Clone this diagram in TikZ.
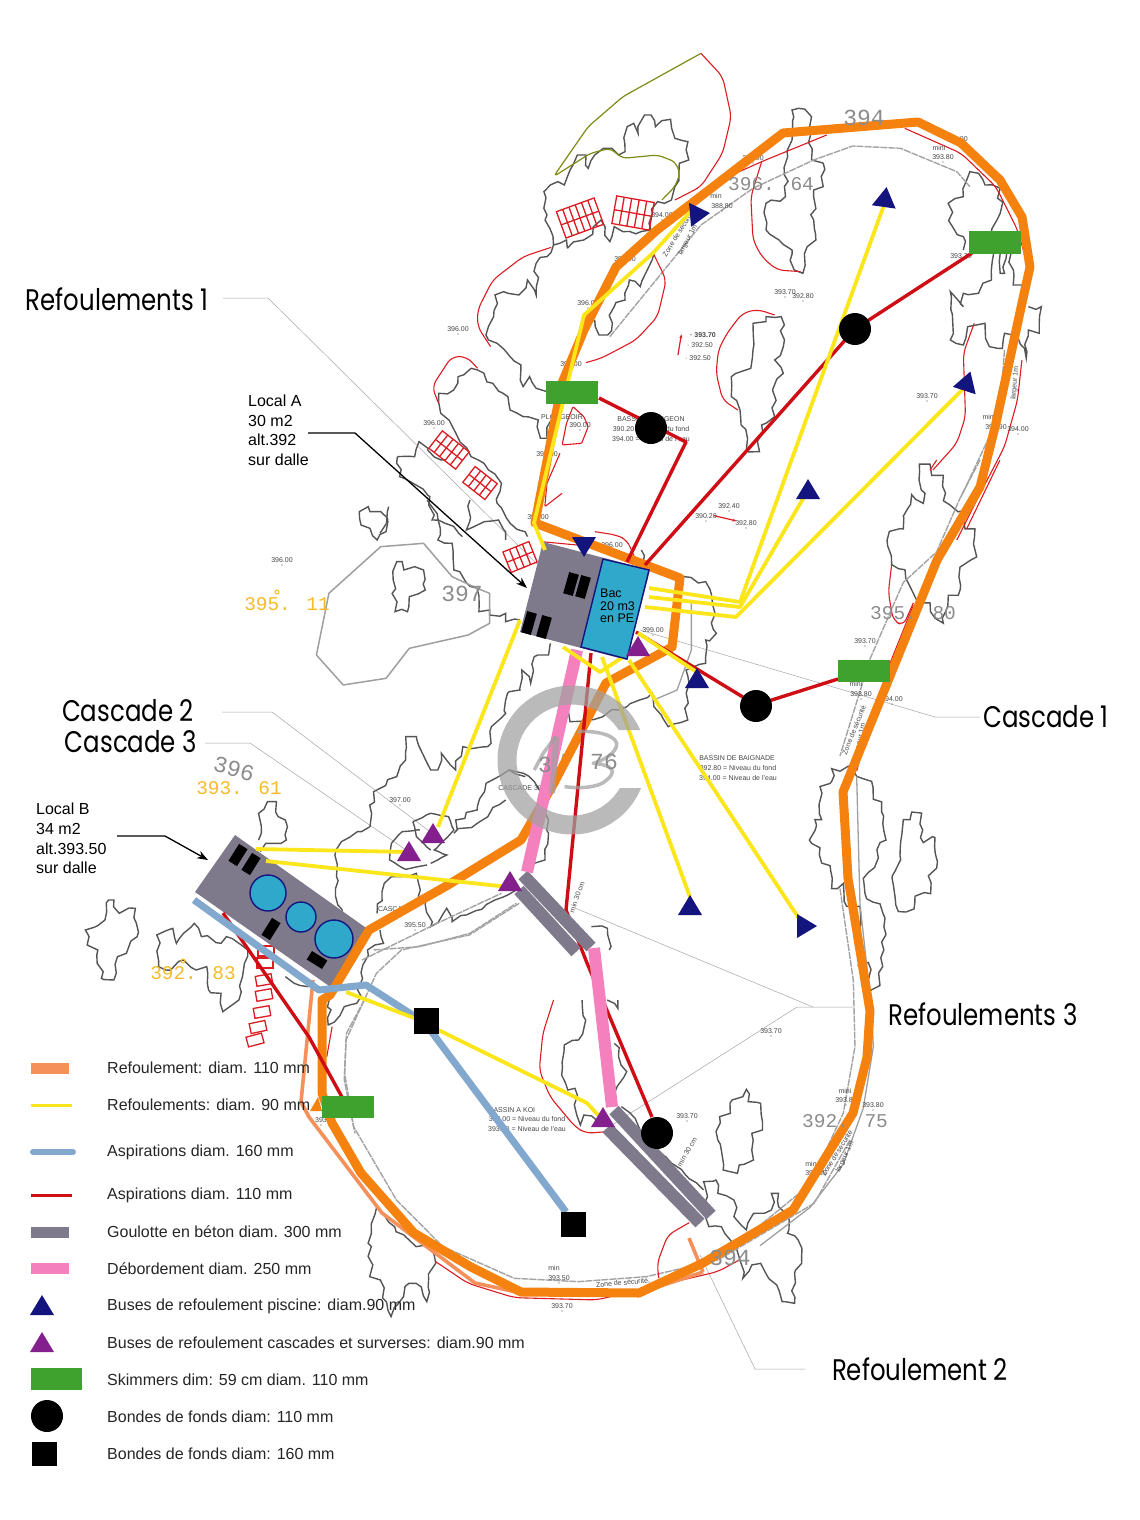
\documentclass[tikz,border=0pt]{standalone}
\usepackage{fontspec}
\usetikzlibrary{arrows.meta,decorations.pathmorphing}
\setmainfont{Liberation Sans}
\newfontfamily\calloutfont[FakeStretch=0.82]{Poppins}
\newfontfamily\monofont{Liberation Mono}
\definecolor{cOrange}{HTML}{F5820F}
\definecolor{cCoral}{HTML}{F5905A}
\definecolor{cYellow}{HTML}{FBE61C}
\definecolor{cRed}{HTML}{CE0E14}
\definecolor{cThinRed}{HTML}{DC1C22}
\definecolor{cBlue}{HTML}{82A8CE}
\definecolor{cGoul}{HTML}{7E7A8C}
\definecolor{cPink}{HTML}{F480BE}
\definecolor{cNavy}{HTML}{14147E}
\definecolor{cPurple}{HTML}{84208E}
\definecolor{cGreen}{HTML}{3FA12E}
\definecolor{cBac}{HTML}{2FA8CC}
\definecolor{cTree}{HTML}{555555}
\definecolor{cOlive}{HTML}{7F8C14}
\definecolor{cMark}{HTML}{A0A0A0}
\definecolor{cGold}{HTML}{F5BC28}
\newcounter{lb}
\pgfmathsetseed{7}
\tikzset{
 Zone/.style={shift={(380pt,-40pt)},x=.4337pt,y=-.3333pt},
 Ztwo/.style={shift={(220pt,-500pt)},x=.3571pt,y=-.3333pt},
 Zthree/.style={shift={(80pt,-780pt)},x=.3571pt,y=-.3333pt},
 Zfour/.style={shift={(300pt,-1000pt)},x=.3571pt,y=-.3333pt},
 Zfive/.style={shift={(760pt,-460pt)},x=.3333pt,y=-.5102pt},
 tree/.style={draw=cTree,line width=1.4pt,line join=miter,decorate,decoration={random steps,segment length=8pt,amplitude=3pt}},
 pool/.style={draw=gray!72,line width=1.4pt,dash pattern=on 7pt off 1pt,line join=round},
 thinred/.style={draw=cThinRed,line width=1.1pt,line join=round,rounded corners=7pt},
 leader/.style={draw=gray!70,line width=.5pt},
 pipeOrange/.style={draw=cOrange,line width=9pt,line join=round},
 pipeCoral/.style={draw=cCoral,line width=3.6pt,line join=round},
 pipeYellow/.style={draw=cYellow,line width=3.8pt,line join=round},
 pipeRed/.style={draw=cRed,line width=3.4pt,line join=round},
 pipeBlue/.style={draw=cBlue,line width=7pt,line join=round},
 pipeGoul/.style={draw=cGoul,line width=12.5pt},
 pipePink/.style={draw=cPink,line width=12pt},
 callout/.style={font=\calloutfont\fontsize{29.8}{32}\selectfont,inner sep=0pt},
 legend/.style={font=\fontsize{16}{18}\selectfont,text=black!85,anchor=west,inner sep=0pt},
 note/.style={font=\fontsize{16}{19.6}\selectfont,align=left,anchor=north west,inner sep=0pt},
 plantext/.style={font=\fontsize{7}{8}\selectfont,text=black!72,inner sep=0pt},
 goldtext/.style={font=\monofont\fontsize{19.4}{22}\selectfont,text=cGold,inner sep=0pt},
 greytext/.style={font=\monofont\fontsize{19.5}{24}\selectfont,text=gray!90,inner sep=0pt},
 greybig/.style={font=\monofont\fontsize{23}{24}\selectfont,text=gray!90,inner sep=0pt},
 stairline/.style={draw=cThinRed,line width=1.3pt},
}
\newcommand{\pl}[3]{\stepcounter{lb}\node[plantext] (p\thelb) at (#1,#2) {#3};\fill[black!70] (#1,#2+5) circle (.6);}
\newcommand{\pn}[3]{\stepcounter{lb}\node[plantext] (p\thelb) at (#1,#2) {#3};}
\newcommand{\plr}[4]{\stepcounter{lb}\node[plantext,rotate=#3] (p\thelb) at (#1,#2) {#4};}
\newcommand{\tri}[4]{\fill[#4,shift={(#1pt,-#2pt)},rotate=#3] (-12,9) -- (12,9) -- (0,-11) -- cycle;}
\newcommand{\stairs}[6]{\begin{scope}[shift={(#1pt,-#2pt)},rotate=#3]
 \draw[stairline] (-#4,-#5) rectangle (#4,#5);
 \draw[stairline] (-#4,0) -- (#4,0);
 \foreach \k in {1,...,#6}{\draw[stairline] ({-#4+2*#4*\k/(#6+1)},-#5) -- ({-#4+2*#4*\k/(#6+1)},#5);}
\end{scope}}
\newcommand{\blk}[4]{\fill[black,shift={(#1pt,-#2pt)},rotate=#3] (-5,-#4) rectangle (5,#4);}
\begin{document}
\begin{tikzpicture}[x=1pt,y=-1pt]
\useasboundingbox (0,0) rectangle (1140,1520);
\fill[white] (0,0) rectangle (1140,1520);

% ---------- leaders
\draw[leader] (223,298) -- (268,298) -- (545,572);
\draw[leader] (222,712) -- (272,712) -- (433,834);
\draw[leader] (205,743) -- (250,743) -- (409,852);
\draw[leader] (980,717) -- (935,717) -- (640,630);
\draw[leader] (853,1007) -- (797,1007) -- (612,1125);
\draw[leader] (813,1007) -- (575,908);
\draw[leader] (805,1369) -- (755,1369) -- (700,1255);

% ---------- trees, zoom frame 1
\begin{scope}[Zone]
\draw[tree] (432,625) -- (430,600) -- (400,615) -- (385,525) -- (378,455) -- (410,425) -- (425,435) -- (445,375) -- (455,345) -- (475,345) -- (480,385) -- (495,345) -- (515,325) -- (535,325) -- (550,345) -- (565,335) -- (570,260) -- (585,250) -- (595,280) -- (610,225) -- (625,225) -- (635,260) -- (670,238) -- (680,295) -- (710,305) -- (712,360) -- (690,370) -- (680,440) -- (672,480) -- (640,485) -- (628,520) -- (625,570) -- (560,575) -- (540,560) -- (530,605) -- (510,540) -- (470,600) -- (432,625);
\draw[tree] (400,615) -- (385,650) -- (360,670) -- (360,765) -- (340,720) -- (320,765) -- (295,760) -- (285,755) -- (265,765) -- (262,830) -- (250,860) -- (250,900) -- (270,910) -- (300,950) -- (325,975) -- (330,1040) -- (345,1010) -- (360,1045) -- (385,1055);
\draw[tree] (632,640) -- (620,680) -- (600,740) -- (575,720) -- (565,780) -- (540,800) -- (525,885) -- (505,885) -- (495,840);
\draw[tree] (135,1085) -- (135,1060) -- (170,1050) -- (180,1010) -- (210,985) -- (225,990) -- (260,1030) -- (295,1070) -- (300,1110) -- (330,1130) -- (365,1140) -- (370,1195) -- (385,1195) -- (395,1140);
\draw[tree] (135,1085) -- (140,1120) -- (165,1155) -- (175,1180) -- (210,1250) -- (250,1290) -- (280,1330) -- (270,1390) -- (300,1450) -- (340,1490);
\draw[tree] (40,1250) -- (80,1250) -- (90,1205) -- (110,1230) -- (150,1260);
\draw[tree] (40,1250) -- (45,1310) -- (115,1370) -- (120,1440) -- (150,1450) -- (190,1490);
\draw[tree] (20,1400) -- (15,1450) -- (0,1480);
\draw[tree] (950,210) -- (965,205) -- (995,230) -- (995,360) -- (1022,370) -- (1022,440) -- (1000,450) -- (1000,540) -- (1005,600) -- (985,620) -- (975,700) -- (955,690) -- (950,630) -- (920,600) -- (890,570) -- (890,490) -- (935,470) -- (940,350) -- (950,300) -- cycle;
\draw[tree] (860,850) -- (890,845) -- (890,830) -- (925,830) -- (930,920) -- (910,960) -- (930,1000) -- (905,1050) -- (910,1130) -- (880,1155) -- (875,1235) -- (845,1225) -- (830,1110) -- (810,1070) -- (810,1010) -- (855,985) -- (860,930) -- cycle;
\draw[tree] (1345,630) -- (1345,590) -- (1320,560) -- (1310,490) -- (1345,470) -- (1360,395) -- (1380,400) -- (1395,435) -- (1430,445) -- (1430,520) -- (1410,575);
\draw[tree] (1415,640) -- (1410,720) -- (1390,730) -- (1380,760) -- (1345,760) -- (1345,800) -- (1315,755) -- (1315,900) -- (1345,915) -- (1355,860) -- (1395,850) -- (1405,920) -- (1435,925) -- (1440,880) -- (1470,890) -- (1490,955) -- (1495,870) -- (1520,880) -- (1525,800) -- (1495,800);
\draw[tree] (1430,640) -- (1430,700) -- (1440,700) -- (1445,640);
\draw[tree] (1455,640) -- (1460,735) -- (1480,735);
\end{scope}

% ---------- trees, zoom frame 2
\begin{scope}[Ztwo]
\draw[tree] (390,35) -- (415,20) -- (420,35) -- (450,35) -- (470,65) -- (465,95) -- (440,120) -- (420,85) -- (395,75) -- cycle;
\draw[tree] (485,240) -- (495,185) -- (510,185) -- (515,210) -- (545,200) -- (570,210) -- (575,270) -- (530,290) -- (525,335) -- (490,335) -- cycle;
\draw[tree] (580,0) -- (610,55) -- (610,120) -- (650,130) -- (655,210) -- (720,265) -- (725,335) -- (755,330) -- (755,345) -- (800,340) -- (800,365) -- (840,360);
\draw[tree] (700,0) -- (690,90) -- (740,65) -- (780,60) -- (800,120);
\draw[tree] (925,430) -- (920,465) -- (880,470) -- (870,550) -- (845,510) -- (840,570) -- (805,580) -- (800,640) -- (760,680) -- (750,740) -- (680,740) -- (660,810) -- (620,760) -- (610,810) -- (590,810) -- (550,710) -- (520,710) -- (520,780) -- (495,830) -- (430,875) -- (420,980) -- (385,995) -- (340,1025) -- (325,1050) -- (330,1215) -- (345,1250);
\draw[tree] (855,830) -- (810,810) -- (745,850) -- (720,930) -- (660,960) -- (655,1000) -- (735,960) -- (800,900);
\draw[tree] (810,810) -- (850,820) -- (900,880) -- (920,960) -- (920,1000) -- (910,1080) -- (880,1090);
\draw[tree,decoration={random steps,segment length=5pt,amplitude=.5pt}] (540,965) -- (590,940) -- (640,950) -- (655,990) -- (600,1050) -- (635,1065) -- (590,1090);
\draw[tree,decoration={random steps,segment length=5pt,amplitude=.5pt}] (540,965) -- (550,1010) -- (590,1050);
\draw[tree,decoration={random steps,segment length=5pt,amplitude=.5pt}] (480,1030) -- (510,995) -- (560,990);
\draw[tree,decoration={random steps,segment length=5pt,amplitude=.5pt}] (480,1030) -- (475,1080) -- (520,1108) -- (580,1095);
\draw[tree] (440,1240) -- (460,1150) -- (480,1130) -- (550,1120) -- (555,1190);
\draw[tree] (555,1190) -- (580,1190) -- (590,1280) -- (635,1225) -- (650,1265) -- (690,1245) -- (770,1200) -- (830,1170);
\draw[tree] (1180,150) -- (1190,210) -- (1300,230) -- (1360,245) -- (1390,400) -- (1360,420) -- (1360,490) -- (1305,510) -- (1310,660) -- (1255,680) -- (1215,620) -- (1210,580) -- (1175,600) -- (1140,620) -- (1115,630) -- (1030,660) -- (980,665) -- (975,630);
\draw[tree] (1040,1280) -- (1085,1285) -- (1090,1350);
\draw[thinred] (1050,95) -- (1110,105) -- (1140,120) -- (1160,170);
\draw[thinred] (1200,190) -- (1190,210);
\draw[thinred] (900,125) -- (1000,135);
% large pale outline
\draw[draw=gray!75,line width=1.5pt,line join=round] (570,130) -- (450,140) -- (305,280) -- (270,465) -- (345,555) -- (465,535) -- (530,445) -- (695,405) -- (755,370) -- (755,280) -- (720,265) -- (650,230) -- cycle;
\draw[draw=gray!75,line width=1.3pt] (1320,300) -- (1320,450) -- (1280,570) -- (1215,600);
\draw[pool] (430,1350) -- (560,1340) -- (700,1300) -- (830,1210);
\end{scope}

% ---------- trees, zoom frame 3
\begin{scope}[Zthree]
\draw[tree] (500,180) -- (500,100) -- (525,65) -- (550,65) -- (555,110) -- (575,120) -- (578,180) -- (540,190) -- (520,190) -- (505,215);
\draw[tree] (15,450) -- (70,420) -- (80,360) -- (95,360) -- (110,400) -- (155,385) -- (160,470) -- (130,520) -- (105,530) -- (95,600) -- (60,595) -- (50,510) -- (20,495) -- cycle;
\draw[tree] (215,465) -- (260,445) -- (270,490) -- (290,460) -- (320,430) -- (340,470) -- (395,490) -- (410,470) -- (470,510) -- (455,590) -- (445,660) -- (400,695) -- (395,640) -- (360,630) -- (355,560) -- (325,570) -- (290,540) -- (240,570) -- (220,560) -- cycle;
\draw[tree] (575,590) -- (600,610) -- (640,620);
\draw[tree] (700,650) -- (695,735) -- (740,680) -- (775,670) -- (805,510) -- (850,490) -- (840,450);
\end{scope}

% ---------- trees, zoom frame 4
\begin{scope}[Zfour]
\draw[tree] (790,0) -- (800,60) -- (780,120) -- (740,135) -- (735,200) -- (750,270) -- (770,265) -- (775,345) -- (785,375) -- (795,345) -- (830,360);
\draw[tree] (860,0) -- (890,25) -- (890,0);
\draw[tree] (880,130) -- (915,215) -- (880,280);
\draw[tree] (900,320) -- (1010,460) -- (1130,570);
\draw[tree] (1175,350) -- (1205,340) -- (1210,300) -- (1240,290) -- (1250,268) -- (1255,305) -- (1290,310) -- (1295,390) -- (1265,400) -- (1270,480) -- (1230,495) -- (1225,520) -- (1185,510) -- (1170,420) -- cycle;
\draw[tree] (1130,545) -- (1165,540) -- (1170,580) -- (1215,600) -- (1215,650) -- (1250,690) -- (1270,640) -- (1320,630) -- (1320,580) -- (1340,580) -- (1340,620) -- (1370,660) -- (1365,700) -- (1395,720) -- (1405,790) -- (1385,820) -- (1385,910) -- (1350,905) -- (1335,855) -- (1290,790) -- (1265,795) -- (1240,835) -- (1235,790) -- (1205,720) -- (1180,680) -- (1145,680) -- cycle;
\draw[tree] (215,620) -- (200,700) -- (195,830) -- (225,840) -- (255,950) -- (290,890) -- (305,850) -- (325,850) -- (355,905) -- (360,840) -- (380,790) -- (360,730) -- (325,740) -- (265,680) -- cycle;
\end{scope}

% ---------- trees, zoom frame 5
\begin{scope}[Zfive]
\draw[tree] (478,8) -- (510,8) -- (515,30) -- (550,30) -- (550,80) -- (605,100) -- (615,135) -- (645,135) -- (650,190) -- (600,210) -- (595,265) -- (565,265) -- (550,320) -- (525,310) -- (510,280) -- (470,275) -- (435,215) -- (395,205) -- (388,140) -- (430,135) -- (430,110) -- (455,68) -- (490,85) -- cycle;
\draw[tree] (265,600) -- (290,620) -- (335,630) -- (340,665) -- (365,670) -- (378,745) -- (360,750) -- (355,780) -- (310,820) -- (320,860) -- (360,870) -- (378,930) -- (365,945) -- (360,1030) -- (330,1040) -- (325,985) -- (295,990) -- (300,875) -- (260,875) -- (250,830) -- (215,840) -- (210,795) -- (185,790) -- (180,760) -- (148,745) -- (165,705) -- (185,705) -- (180,640) -- (215,630) -- (215,605) -- (240,610) -- cycle;
\draw[tree] (430,705) -- (450,705) -- (455,690) -- (485,692) -- (490,750) -- (525,740) -- (530,800) -- (505,815) -- (512,850) -- (465,855) -- (462,880) -- (415,885) -- (397,815) -- (420,775) -- cycle;
% pool outlines
\draw[pool] (660,0) -- (600,75) -- (530,180) -- (430,240) -- (330,390) -- (240,580);
\draw[pool] (240,840) -- (280,1020) -- (285,1150) -- (250,1280) -- (150,1420) -- (0,1500);
\draw[draw=gray!75,line width=1.3pt] (290,620) -- (300,870) -- (335,1080) -- (340,1150) -- (310,1270) -- (250,1380) -- (150,1465) -- (0,1540);
\draw[thinred] (395,205) -- (385,260) -- (400,315) -- (430,325) -- (460,280);
\draw[thinred] (290,610) -- (330,510) -- (395,390) -- (460,285);
\draw[thinred] (720,0) -- (620,135);
\draw[thinred] (530,0) -- (510,20);
\end{scope}

% ---------- pool outlines and thin red, frame 1
\begin{scope}[Zone]
\draw[pool] (530,890) -- (740,555) -- (860,445) -- (1000,360) -- (1090,318) -- (1200,325) -- (1330,395) -- (1360,440);
\draw[pool] (1440,930) -- (1430,1100) -- (1405,1190) -- (1340,1370);
\draw[draw=cOlive,line width=1.2pt,line join=round,rounded corners=5pt] (740,40) -- (560,170) -- (480,260) -- (400,410) -- (485,340) -- (530,325) -- (560,355) -- (640,345) -- (680,365) -- (692,400) -- (680,440) -- (650,480);
\draw[thinred] (740,40) -- (790,110) -- (810,230) -- (790,340) -- (740,440) -- (680,480);
\draw[thinred] (395,622) -- (330,650) -- (260,720) -- (225,810) -- (225,860) -- (255,920);
\draw[thinred] (630,640) -- (660,720) -- (640,830) -- (590,900) -- (510,955) -- (475,968);
\draw[thinred] (135,1090) -- (120,1040) -- (165,950) -- (200,950) -- (225,985);
\draw[thinred] (880,365) -- (855,470) -- (860,600) -- (880,650) -- (915,690) -- (970,695);
\draw[thinred] (910,825) -- (870,808) -- (835,820) -- (800,880) -- (780,930) -- (775,1000) -- (790,1080) -- (825,1110);
\draw[thinred] (1210,265) -- (1340,340) -- (1420,440) -- (1470,570) -- (1490,660);
\draw[thinred] (1480,960) -- (1470,1080) -- (1440,1220) -- (1380,1370) -- (1330,1500);
\draw[thinred] (820,400) -- (880,365) -- (1030,285);
\draw[thinred] (1370,850) -- (1345,940) -- (1350,1130) -- (1330,1210) -- (1275,1290);
\draw[thinred,rounded corners=1pt] (445,1100) -- (470,1130) -- (480,1160) -- (465,1210) -- (420,1215) -- (430,1150) -- cycle;
\draw[thinred,rounded corners=1pt] (385,1330) -- (415,1240);
\draw[thinred,rounded corners=1pt] (385,1330) -- (380,1400) -- (420,1360);
\draw[-{Stealth[length=4pt,width=3pt]},draw=cThinRed,line width=1.2pt] (687,945) -- (695,883);
\draw[-{Stealth[length=4pt,width=3pt]},draw=cThinRed,line width=1.2pt] (770,1427) -- (822,1443);
\end{scope}
% ---------- frame 3 / 4 pale and red
\begin{scope}[Zfour]
\draw[pool] (1540,420) -- (1440,610) -- (1170,780) -- (970,830) -- (780,845) -- (600,835) -- (400,740) -- (270,600) -- (150,380) -- (125,220) -- (130,100) -- (180,0);
\draw[thinred] (710,0) -- (680,100) -- (670,210) -- (700,290) -- (770,380) -- (800,400) -- (860,395);
\draw[thinred] (1090,668) -- (1030,705) -- (1000,790) -- (1005,835);
\draw[thinred] (380,785) -- (470,850) -- (600,893) -- (830,900) -- (950,870) -- (1170,815) -- (1230,780);
\draw[thinred] (90,80) -- (75,170);
\end{scope}
\begin{scope}[Zthree]
\draw[pool] (1230,370) -- (1090,465) -- (900,510) -- (830,580) -- (745,780) -- (740,900) -- (770,1060);
\draw[pool] (790,540) -- (1000,430) -- (1180,340);
\end{scope}

% ---------- stairs
\stairs{580}{218}{20}{20}{14}{5}
\stairs{633}{213}{-10}{19}{14}{4}
\stairs{449}{450}{-38}{17}{11}{4}
\stairs{480}{483}{-38}{14}{10}{3}
\stairs{520}{557}{22}{14}{11}{3}
\begin{scope}
\foreach \px/\py/\pr in {266/951/0,265/963/0,264/980/10,264/995/10,262/1012/10,258/1027/12,255/1040/15}{
 \draw[stairline,shift={(\px pt,-\py pt)},rotate=\pr] (-8,-5) rectangle (8,5);
}
\end{scope}

% ---------- small plan text
\pl{282}{560}{396.00}\pl{458}{329}{396.00}\pl{434}{423}{396.00}\pl{785}{292}{393.70}\pl{803}{296}{392.80}
\pl{927}{396}{393.70}\pl{729}{506}{392.40}\pl{706}{516}{390.20}\pl{746}{523}{392.80}\pl{1018}{429}{394.00}
\pl{943}{157}{393.80}\pn{939}{148}{mini}\pl{961}{256}{393.70}\pl{957}{139}{394.00}\pl{722}{206}{388.80}\pn{716}{196}{min}
\pn{562}{417}{PLONGEOIR}\pl{580}{425}{390.00}\pn{651}{419}{BASSIN PLONGEON}\pn{651}{429}{390.20 = Niveau du fond}\pn{651}{439}{394.00 = Niveau de l'eau}
\pl{588}{303}{396.00}\pl{662}{215}{394.00}\pl{625}{259}{396.00}\pl{571}{364}{397.00}\pl{547}{454}{397.00}\pl{538}{517}{396.00}
\pl{753}{158}{393.90}\pl{996}{427}{393.90}\pn{989}{417}{mini}
\pl{865}{641}{393.70}\pn{856}{684}{mini}\pl{861}{694}{393.80}\pl{892}{699}{394.00}
\pn{737}{758}{BASSIN DE BAIGNADE}\pn{738}{768}{392.80 = Niveau du fond}\pn{738}{778}{394.00 = Niveau de l'eau}
\pl{653}{630}{399.00}\pl{612}{545}{396.00}\pl{400}{800}{397.00}\pn{522}{788}{CASCADE 396}\pn{395}{909}{CASCADE}\pl{415}{925}{395.50}
\pn{512}{1110}{BASSIN A KOI}\pn{527}{1119}{392.00 = Niveau du fond}\pn{527}{1129}{393.00 = Niveau de l'eau}
\pl{687}{1116}{393.70}\pl{771}{1031}{393.70}\pn{554}{1268}{min}\pl{559}{1278}{393.50}\pl{562}{1306}{393.70}
\pn{811}{1164}{min}\pl{816}{1173}{393.80}\pn{845}{1091}{mini}\pl{846}{1100}{393.80}\pl{873}{1105}{393.80}\pl{321}{1120}{393}
\pn{703}{335}{\textbf{· 393.70}}\pn{700}{345}{· 392.50}\pn{698}{358}{· 392.50}
\plr{679}{233}{58}{Zone de sécurité,}\plr{688}{240}{62}{largeur 1m}\plr{1015}{383}{85}{largeur 1m}
\plr{854}{730}{68}{Zone de sécurité}\plr{860}{740}{78}{largeur 1m}\plr{623}{1283}{5}{Zone de sécurité,}
\plr{837}{1153}{58}{Zone de sécurité}\plr{845}{1157}{65}{largeur 1m}\plr{687}{1152}{60}{min 30 cm}\plr{577}{897}{70}{min 30 cm}\plr{560}{770}{75}{min 30 cm}

% ---------- building polygons
\fill[cGoul] (543,542) -- (650,570) -- (627,660) -- (520,632) -- cycle;
\fill[cGoul] (235,835) -- (369,930) -- (332,988) -- (195,892) -- cycle;

% ---------- pipes
\draw[pipeCoral] (313,980) -- (301,1102) -- (309,1117) -- (382,1213) -- (475,1283) -- (521,1293) -- (639,1293) -- (703,1272);
\draw[pipeCoral] (703,1272) -- (689,1238);
\draw[pipeOrange] (322,1000) -- (330,995) -- (369,930) -- (448,885) -- (521,840) -- (554,783) -- (606,683) -- (672,647) -- (680,578) -- (535,523) -- (562,383) -- (584,330) -- (616,267) -- (657,230) -- (783,133) -- (918,122) -- (961,143) -- (1000,180) -- (1022,217) -- (1030,267) -- (1022,303) -- (996,423) -- (980,487) -- (937,560) -- (843,792) -- (848,878) -- (870,1011) -- (867,1057) -- (853,1113) -- (793,1210) -- (703,1263) -- (639,1293) -- (521,1292) -- (471,1267) -- (414,1233) -- (361,1173) -- (332,1123) -- (322,1093) -- cycle;
\fill[cOrange] (310,1111) -- (318,1097) -- (322,1111) -- cycle;

\draw[pipeRed] (599,398) -- (686,442) -- (627,562);
\draw[pipeRed] (972,253) -- (855,329) -- (645,565);
\draw[pipeRed] (636,632) -- (756,705) -- (838,679);
\draw[pipeRed] (591,653) -- (566,910) -- (587,963) -- (652,1117);
\draw[pipeRed] (223,913) -- (309,1037) -- (342,1097);

\draw[pipeGoul] (523,875) -- (591,947);
\draw[pipeGoul] (519,890) -- (576,952);
\draw[pipeGoul] (614,1110) -- (711,1215);
\draw[pipeGoul] (607,1128) -- (700,1223);

\draw[pipePink] (577,650) -- (527,872);
\draw[pipePink] (594,948) -- (612,1107);

\draw[pipeBlue] (194,900) -- (319,990) -- (366,985) -- (425,1023) -- (566,1212);

\draw[pipeYellow] (545,550) -- (534,523) -- (584,315) -- (653,253) -- (692,210);
\draw[pipeYellow] (649,588) -- (740,602) -- (884,205);
\draw[pipeYellow] (649,597) -- (740,607) -- (808,490);
\draw[pipeYellow] (645,607) -- (736,617) -- (967,385);
\draw[pipeYellow] (563,647) -- (600,672) -- (623,657);
\draw[pipeYellow] (602,657) -- (690,897);
\draw[pipeYellow] (629,660) -- (800,920);
\draw[pipeYellow] (638,633) -- (698,673);
\draw[pipeYellow] (520,620) -- (438,827);
\draw[pipeYellow] (256,849) -- (409,852);
\draw[pipeYellow] (266,861) -- (509,887);
\draw[pipeYellow] (346,992) -- (414,1018) -- (587,1103) -- (598,1115);

% ---------- bac and fittings
\filldraw[fill=cBac,draw=cNavy,line width=1.4pt] (603,559) -- (649,570) -- (627,659) -- (581,647) -- cycle;
\filldraw[fill=cBac,draw=cNavy,line width=1.4pt] (268,893) circle (18);
\filldraw[fill=cBac,draw=cNavy,line width=1.4pt] (301,917) circle (15);
\filldraw[fill=cBac,draw=cNavy,line width=1.4pt] (334,939) circle (19);
\blk{571}{584}{-16}{11}\blk{583}{587}{-16}{11}\blk{529}{623}{-16}{11}\blk{544}{627}{-16}{11}
\blk{238}{855}{-32}{10}\blk{251}{864}{-32}{10}\blk{271}{929}{-32}{10}\blk{317}{960}{-122}{9}

\tri{885}{198}{-8}{cNavy}
\tri{699}{214}{-85}{cNavy}
\tri{967}{382}{-18}{cNavy}
\tri{808}{490}{0}{cNavy}
\tri{697}{679}{0}{cNavy}
\tri{690}{906}{0}{cNavy}
\tri{806}{926}{-90}{cNavy}
\tri{584}{546}{180}{cNavy}
\tri{433}{834}{0}{cPurple}
\tri{409}{852}{0}{cPurple}
\tri{510}{882}{0}{cPurple}
\tri{603}{1118}{0}{cPurple}
\tri{638}{647}{0}{cPurple}

\fill[cGreen] (546,381) rectangle (598,404);
\fill[cGreen] (969,231) rectangle (1021,254);
\fill[cGreen] (838,660) rectangle (890,682);
\fill[cGreen] (322,1096) rectangle (374,1118);

\foreach \cx/\cy in {651/428,855/329,756/706,657/1133}{\fill[black] (\cx,\cy) circle (16);}
\fill[black] (414,1008) rectangle (439,1034);
\fill[black] (561,1212) rectangle (586,1237);

% ---------- watermark
\begin{scope}[opacity=.72]
\begin{scope}
\clip (480,660) rectangle (680,730) (480,730) rectangle (572,788) (480,788) rectangle (680,860);
\draw[cMark,line width=19pt] plot[domain=5:355,samples=70,smooth] ({572+65*cos(\x)},{760-65*sin(\x)});
\end{scope}
\begin{scope}[Ztwo]
\draw[cMark,line width=3.5pt,line join=round] (940,710) -- (905,760) -- (880,810);
\draw[cMark,line width=6pt] (942,710) -- (930,880);
\draw[cMark,line width=3.5pt,line join=round] (1000,695) .. controls (1060,690) and (1120,710) .. (1110,740) .. controls (1100,770) and (1060,785) .. (1045,790) .. controls (1100,795) and (1120,815) .. (1070,850) .. controls (1040,865) and (1000,865) .. (965,860);
\end{scope}
\end{scope}
\node[greybig] (wma) at (545,765) {3};
\node[greybig] (wmb) at (604,762) {76};

% ---------- large grey and gold figures
\node[greybig] (g1) at (864,118) {394};
\node[greytext] (g2) at (771,184) {396. 64};
\node[greybig] (g3) at (462,594) {397};
\node[greybig,rotate=-15] (g4) at (234,769) {396};
\node[greytext] (g5) at (913,613) {395. 80};
\node[greytext] (g6) at (845,1121) {392. 75};
\node[greybig] (g7) at (730,1258) {394};
\node[goldtext] (y1) at (287,604) {395. 11};
\node[goldtext] (y2) at (239,788) {393. 61};
\node[goldtext] (y3) at (193,973) {392. 83};
\draw[cGold,line width=1pt] (277,592) circle (2);
\draw[cGold,line width=1pt] (183,961) circle (2);

% ---------- notes and arrows
\node[note] (localA) at (248,395) {Local A\\30 m2\\alt.392\\sur dalle};
\node[note] (localB) at (36,803) {Local B\\34 m2\\alt.393.50\\sur dalle};
\node[font=\fontsize{12.5}{12.5}\selectfont,align=left,anchor=north west,inner sep=0pt] (bacnote) at (600,589) {Bac\\20 m3\\en PE};
\coordinate (aA) at (527,588);
\coordinate (aB) at (208,860);
\draw[black,line width=1.3pt,-{Stealth[length=11pt,width=8pt]}] (308,433) -- (355,433) -- (aA);
\draw[black,line width=1.3pt,-{Stealth[length=11pt,width=8pt]}] (117,836) -- (165,836) -- (aB);

% ---------- callouts
\node[callout] (c1) at (117,299) {Refoulements 1};
\node[callout] (c2) at (128,711) {Cascade 2};
\node[callout] (c3) at (131,742) {Cascade 3};
\node[callout] (c4) at (1046,717) {Cascade 1};
\node[callout] (c5) at (983,1014) {Refoulements 3};
\node[callout] (c6) at (920,1369) {Refoulement 2};

% ---------- legend
\fill[cCoral] (31,1063) rectangle (69,1074);
\draw[draw=cYellow,line width=3pt] (31,1105) -- (72,1105);
\draw[draw=cBlue,line width=6pt,line cap=round] (33,1152) -- (73,1152);
\draw[draw=cRed,line width=3pt] (31,1195) -- (72,1195);
\fill[cGoul] (31,1227) rectangle (69,1238);
\fill[cPink] (31,1263) rectangle (69,1274);
\tri{42}{1306}{0}{cNavy}
\tri{42}{1343}{0}{cPurple}
\fill[cGreen] (31,1368) rectangle (82,1390);
\fill[black] (47,1416) circle (16);
\fill[black] (32,1442) rectangle (57,1466);
\node[legend] (l1) at (107,1068) {Refoulement: diam. 110 mm};
\node[legend] (l2) at (107,1105) {Refoulements: diam. 90 mm};
\node[legend] (l3) at (107,1152) {Aspirations diam. 160 mm};
\node[legend] (l4) at (107,1195) {Aspirations diam. 110 mm};
\node[legend] (l5) at (107,1232) {Goulotte en béton diam. 300 mm};
\node[legend] (l6) at (107,1269) {Débordement diam. 250 mm};
\node[legend] (l7) at (107,1306) {Buses de refoulement piscine: diam.90 mm};
\node[legend] (l8) at (107,1343) {Buses de refoulement cascades et surverses: diam.90 mm};
\node[legend] (l9) at (107,1380) {Skimmers dim: 59 cm diam. 110 mm};
\node[legend] (l10) at (107,1417) {Bondes de fonds diam: 110 mm};
\node[legend] (l11) at (107,1454) {Bondes de fonds diam: 160 mm};
\end{tikzpicture}
\end{document}
